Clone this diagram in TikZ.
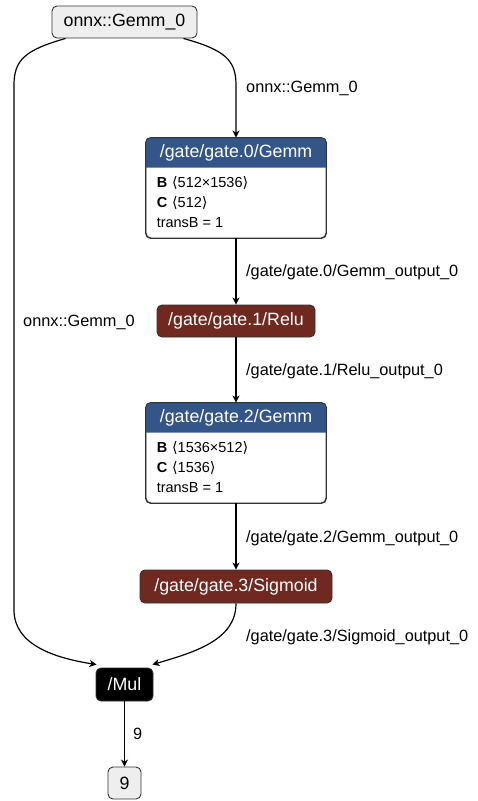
\documentclass[tikz,border=0pt]{standalone}
\usepackage{fontspec}
\setmainfont{Liberation Sans}
\newfontfamily\symfont{DejaVu Sans}
\usetikzlibrary{arrows.meta,positioning}
\definecolor{gemmblue}{HTML}{335588}
\definecolor{actred}{HTML}{702921}
\definecolor{ioback}{HTML}{EEEEEE}
\definecolor{edgegray}{HTML}{333333}
\newcommand{\shp}[1]{{\symfont ⟨}#1{\symfont ⟩}}
\tikzset{
  op/.style={draw=edgegray,line width=0.9pt,rounded corners=5pt,inner sep=0pt,
    font=\fontsize{17.8}{20}\selectfont,text=white,minimum height=32pt},
  iobox/.style={op,fill=ioback,text=black},
  act/.style={op,fill=actred},
  gemmbox/.style={draw=edgegray,line width=0.9pt,rounded corners=5pt,fill=white,
    minimum width=180pt,minimum height=100pt,inner sep=0pt},
  attr/.style={anchor=west,inner sep=0pt,font=\fontsize{14.5}{17}\selectfont},
  edge/.style={line width=1.2pt,-{Stealth[length=7pt,width=7pt,inset=2pt]}},
  elabel/.style={anchor=west,inner sep=0pt,font=\fontsize{16.3}{18}\selectfont},
}
\begin{document}
\begin{tikzpicture}[x=1pt,y=-1pt]
  \useasboundingbox (0,0) rectangle (478,801);

  % nodes
  \node[iobox,minimum width=145pt] (input) at (124.5,22) {onnx::Gemm\_0};

  \node[gemmbox] (gemma) at (236,188) {};
  \fill[gemmblue] ([yshift=-30pt]gemma.north west) [rounded corners=5pt]
    -- (gemma.north west) -- (gemma.north east) [sharp corners]
    -- ([yshift=-30pt]gemma.north east) -- cycle;
  \draw[edgegray,line width=0.9pt,rounded corners=5pt] (gemma.north west) rectangle (gemma.south east);
  \node[text=white,font=\fontsize{17.8}{20}\selectfont] (gemmahead) at ([yshift=-15pt]gemma.north) {/gate/gate.0/Gemm};
  \node[attr] (gemmaB) at ([xshift=11pt,yshift=-45pt]gemma.north west) {\textbf{B}\,\,\shp{512×1536}};
  \node[attr] (gemmaC) at ([xshift=11pt,yshift=-65pt]gemma.north west) {\textbf{C}\,\,\shp{512}};
  \node[attr] (gemmaT) at ([xshift=11pt,yshift=-85pt]gemma.north west) {transB = 1};

  \node[act,minimum width=158pt] (relu) at (236,321) {/gate/gate.1/Relu};

  \node[gemmbox] (gemmb) at (236,453) {};
  \fill[gemmblue] ([yshift=-30pt]gemmb.north west) [rounded corners=5pt]
    -- (gemmb.north west) -- (gemmb.north east) [sharp corners]
    -- ([yshift=-30pt]gemmb.north east) -- cycle;
  \draw[edgegray,line width=0.9pt,rounded corners=5pt] (gemmb.north west) rectangle (gemmb.south east);
  \node[text=white,font=\fontsize{17.8}{20}\selectfont] (gemmbhead) at ([yshift=-15pt]gemmb.north) {/gate/gate.2/Gemm};
  \node[attr] (gemmbB) at ([xshift=11pt,yshift=-45pt]gemmb.north west) {\textbf{B}\,\,\shp{1536×512}};
  \node[attr] (gemmbC) at ([xshift=11pt,yshift=-65pt]gemmb.north west) {\textbf{C}\,\,\shp{1536}};
  \node[attr] (gemmbT) at ([xshift=11pt,yshift=-85pt]gemmb.north west) {transB = 1};

  \node[act,minimum width=192pt,minimum height=33pt] (sigm) at (236,586.5) {/gate/gate.3/Sigmoid};
  \node[op,fill=black,minimum width=57pt,minimum height=33pt] (mul) at (124.5,684.5) {/Mul};
  \node[iobox,minimum width=33pt] (output) at (124.5,783) {9};

  % connectors
  \coordinate (rbend) at (236,85);
  \coordinate (ltop) at (14,85);
  \coordinate (lbot) at (14,610);
  \draw[edge] ([xshift=-14pt]input.south east) .. controls (225,50) and (236,60) .. (rbend) -- (gemma.north);
  \draw[edge] ([xshift=14pt]input.south west) .. controls (25,50) and (14,60) .. (ltop) -- (lbot)
    .. controls (14,645) and (55,658) .. ([xshift=1pt,yshift=3pt]mul.north west);
  \draw[edge] (gemma.south) -- (relu.north);
  \draw[edge] (relu.south) -- (gemmb.north);
  \draw[edge] (gemmb.south) -- (sigm.north);
  \draw[edge] (sigm.south) .. controls (236,640) and (195,652) .. ([xshift=-1pt,yshift=3pt]mul.north east);
  \draw[edge] (mul.south) -- (output.north);

  % labels
  \node[elabel] (lblin) at (246,88) {onnx::Gemm\_0};
  \node[elabel] (lblleft) at (23,322) {onnx::Gemm\_0};
  \node[elabel] (lbla) at (246,272) {/gate/gate.0/Gemm\_output\_0};
  \node[elabel] (lblb) at (246,371) {/gate/gate.1/Relu\_output\_0};
  \node[elabel] (lblc) at (246,538) {/gate/gate.2/Gemm\_output\_0};
  \node[elabel] (lbld) at (246,637) {/gate/gate.3/Sigmoid\_output\_0};
  \node[elabel] (lble) at (133,734) {9};
\end{tikzpicture}
\end{document}
